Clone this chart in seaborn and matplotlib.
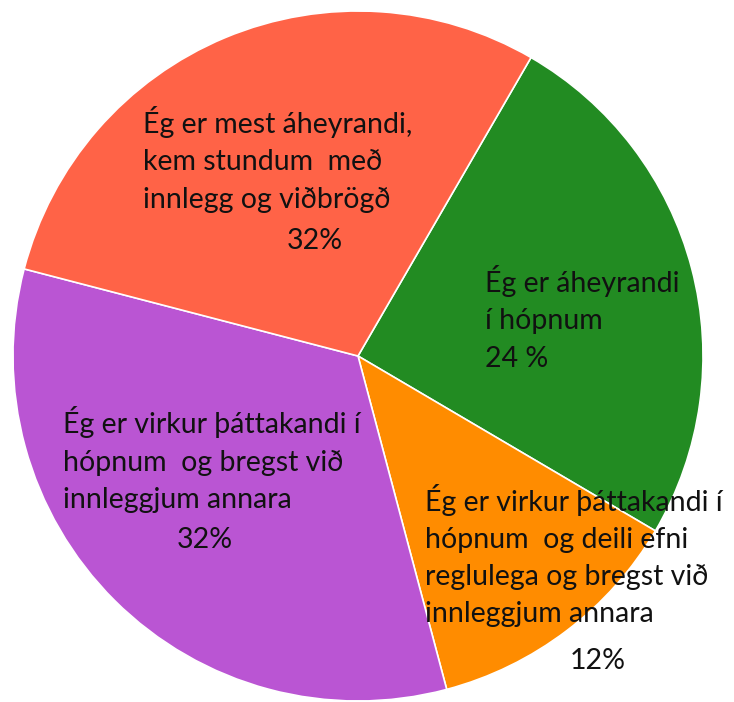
import matplotlib
matplotlib.use("Agg")
import matplotlib.pyplot as plt
import seaborn as sns

# ---- data ----
categories = [
    "Ég er áheyrandi í hópnum",
    "Ég er virkur þáttakandi í hópnum og deili efni reglulega og bregst við innleggjum annara",
    "Ég er virkur þáttakandi í hópnum og bregst við innleggjum annara",
    "Ég er mest áheyrandi, kem stundum með innlegg og viðbrögð",
]
values = [25.1, 12.4, 33.2, 29.3]
pct_labels = ["24 %", "12%", "32%", "32%"]
label_lines = [
    ["Ég er áheyrandi", "í hópnum"],
    ["Ég er virkur þáttakandi í", "hópnum  og deili efni", "reglulega og bregst við", "innleggjum annara"],
    ["Ég er virkur þáttakandi í", "hópnum  og bregst við", "innleggjum annara"],
    ["Ég er mest áheyrandi,", "kem stundum  með", "innlegg og viðbrögð"],
]
colors = ["#228B22", "#FF8C00", "#BA55D3", "#FF6347"]

sns.set_theme(style="white")
plt.rcParams["font.family"] = ["Lato", "DejaVu Sans"]

W, H = 734, 702
fig = plt.figure(figsize=(W / 100, H / 100), dpi=100)
ax = fig.add_axes([0, 0, 1, 1])

cx, cy, r = 358, H - 356, 345
ax.pie(values, colors=colors, startangle=59.9, counterclock=False,
       center=(cx, cy), radius=r, frame=True,
       wedgeprops=dict(edgecolor="white", linewidth=1.2))
ax.set_xlim(0, W)
ax.set_ylim(0, H)
ax.set_aspect("equal")
ax.axis("off")

# label placement (pixel coords from top): left x, first baseline, line step, pct x, pct baseline
place = [
    (485, 292, 37.5, 485, 367),
    (425, 511, 37.0, 570, 669),
    (63, 433, 37.5, 177, 548),
    (143, 133, 37.5, 287, 249),
]
fs = 20.5
for lines, pct, (lx, by, step, px, pby) in zip(label_lines, pct_labels, place):
    for i, ln in enumerate(lines):
        ax.text(lx, H - (by + i * step), ln, ha="left", va="baseline",
                fontsize=fs, color="#111111")
    ax.text(px, H - pby, pct, ha="left", va="baseline", fontsize=fs, color="#111111")

fig.savefig("out.png", dpi=100)
